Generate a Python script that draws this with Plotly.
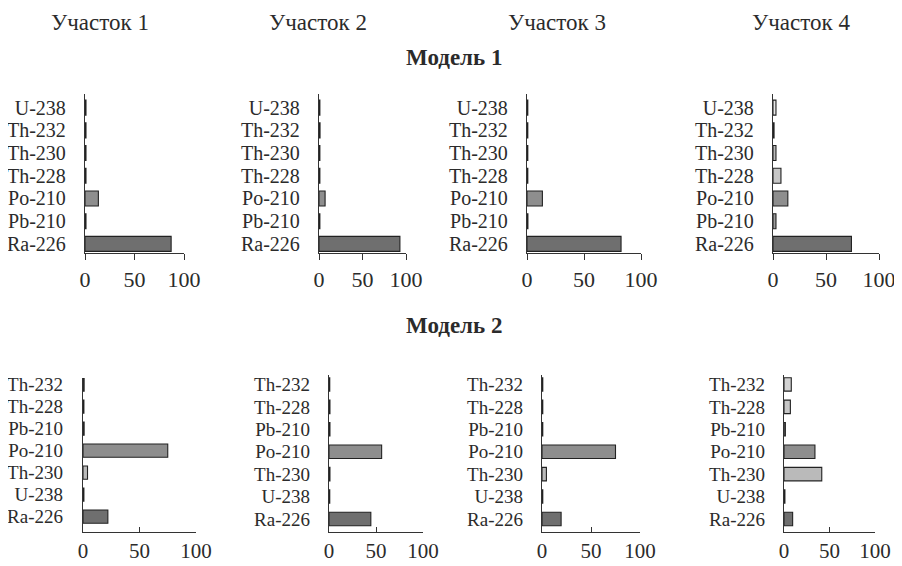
import plotly.graph_objects as go

# page is rendered with an 8px body margin: map page pixels -> figure pixels
OFF = 8
W, H = 902 - OFF, 566 - OFF

# ---- data ----
sites = ["Участок 1", "Участок 2", "Участок 3", "Участок 4"]
models = ["Модель 1", "Модель 2"]

# Model 1 categories (bottom -> top)
cats_m1 = ["Ra-226", "Pb-210", "Po-210", "Th-228", "Th-230", "Th-232", "U-238"]
m1_site1 = [87, 1, 13.5, 1, 1, 1, 1]
m1_site2 = [93, 1, 7, 1, 1, 1.2, 1]
m1_site3 = [82.5, 0.8, 13.5, 0.7, 0.7, 0.7, 0.7]
m1_site4 = [74, 2.8, 14, 7.5, 2.8, 1, 2.8]

# Model 2 categories (bottom -> top)
cats_m2 = ["Ra-226", "U-238", "Th-230", "Po-210", "Pb-210", "Th-228", "Th-232"]
m2_site1 = [22, 0.8, 4, 75, 1, 0.8, 1]
m2_site2 = [44.5, 0.8, 1, 56, 1, 1, 0.8]
m2_site3 = [19.5, 0.8, 4.5, 75, 0.8, 0.8, 0.8]
m2_site4 = [9.5, 1, 41.5, 34, 1.5, 7, 8]

x_ticks = [0, 50, 100]

nuclide_colors = {
    "Ra-226": "#6f6f6f",
    "Po-210": "#8e8e8e",
    "Pb-210": "#9c9c9c",
    "Th-230": "#bababa",
    "Th-228": "#c6c6c6",
    "Th-232": "#d2d2d2",
    "U-238": "#e8e8e8",
}

# ---- layout: page-pixel box of each plot area (x0, x1, y_top, y_bottom),
#      y-range, bar width, label font size, label standoff, bottom-row flag ----
panel_style = [
    ((85, 184, 94, 253), [-0.4, 6.6], 0.66, 20, 14, False),
    ((319, 406, 94, 253), [-0.4, 6.6], 0.66, 20, 14, False),
    ((527, 641, 94, 253), [-0.4, 6.6], 0.66, 20, 14, False),
    ((773, 879, 94, 253), [-0.4, 6.6], 0.66, 20, 14, False),
    ((83, 196, 378, 532), [-0.7, 6.3], 0.6, 19, 15, True),
    ((329, 423, 375, 532), [-0.58, 6.42], 0.6, 19, 14, True),
    ((542, 640, 375, 532), [-0.58, 6.42], 0.6, 19, 14, True),
    ((784, 875, 375, 532), [-0.58, 6.42], 0.6, 19, 14, True),
]
panels = [
    (cats_m1, m1_site1), (cats_m1, m1_site2), (cats_m1, m1_site3), (cats_m1, m1_site4),
    (cats_m2, m2_site1), (cats_m2, m2_site2), (cats_m2, m2_site3), (cats_m2, m2_site4),
]


def px_x(p):
    return (p - OFF) / W


def px_y(p):
    return 1 - (p - OFF) / H


FONT = "'Liberation Serif', 'Times New Roman', 'DejaVu Serif', serif"
TXT = "#2b2b2b"

fig = go.Figure()
layout = dict(
    width=W, height=H, margin=dict(l=0, r=0, t=0, b=0, autoexpand=False),
    paper_bgcolor="white", plot_bgcolor="white", showlegend=False,
    font=dict(family=FONT, size=20, color=TXT),
)

for i, ((cats, vals), (box, yr, bw, fs, so, bottom)) in enumerate(
        zip(panels, panel_style), start=1):
    x0, x1, yt, yb = box
    xa = "x" if i == 1 else f"x{i}"
    ya = "y" if i == 1 else f"y{i}"
    fig.add_trace(go.Bar(
        x=vals, y=cats, orientation="h", xaxis=xa, yaxis=ya,
        width=bw,
        marker=dict(color=[nuclide_colors[c] for c in cats],
                    line=dict(color="#222222", width=1.1)),
        hoverinfo="x+y",
    ))
    xkey = "xaxis" if i == 1 else f"xaxis{i}"
    ykey = "yaxis" if i == 1 else f"yaxis{i}"
    layout[xkey] = dict(
        domain=[px_x(x0), px_x(x1)], anchor=ya, range=[0, 100], automargin=False,
        tickmode="array", tickvals=x_ticks,
        ticks="inside" if bottom else "outside", ticklen=5 if bottom else 6,
        tickcolor="#333",
        showline=True, linecolor="#333", linewidth=1.3, showgrid=False,
        zeroline=False, tickfont=dict(family=FONT, size=21 if bottom else 22, color=TXT),
        fixedrange=True,
    )
    layout[ykey] = dict(
        domain=[px_y(yb), px_y(yt)], anchor=xa, type="category", automargin=False,
        categoryorder="array", categoryarray=cats, range=yr,
        tickmode="array", tickvals=cats, ticktext=cats,
        showline=True, linecolor="#333", linewidth=1.3, showgrid=False,
        ticks="", ticklabelstandoff=so,
        tickfont=dict(family=FONT, size=fs, color=TXT), fixedrange=True,
    )

annotations = []
for name, cx in zip(sites, [100, 318, 557, 801]):
    annotations.append(dict(text=name, x=px_x(cx), y=1, xref="paper", yref="paper",
                            xanchor="center", yanchor="top", showarrow=False,
                            font=dict(family=FONT, size=23, color=TXT)))
for name, cy in zip(models, [57, 325]):
    annotations.append(dict(text=f"<b>{name}</b>", x=px_x(454), y=px_y(cy), xref="paper",
                            yref="paper", xanchor="center", yanchor="middle",
                            showarrow=False, font=dict(family=FONT, size=23, color=TXT)))
layout["annotations"] = annotations

fig.update_layout(**layout)
fig.write_html("out.html")
